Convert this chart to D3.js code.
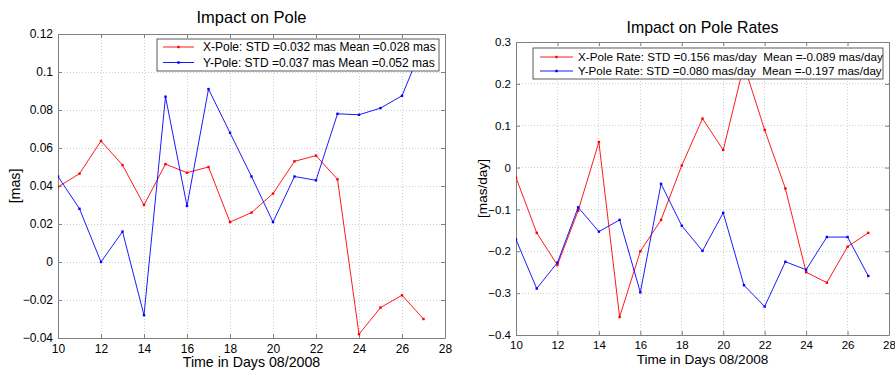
<!DOCTYPE html>
<html>
<head>
<meta charset="utf-8">
<script src="https://cdn.jsdelivr.net/npm/d3@7/dist/d3.min.js"></script>
<style>
  html, body { margin: 0; padding: 0; background: #fff; }
  svg { display: block; font-family: "Liberation Sans", Arial, sans-serif; }
  text { white-space: pre; }
</style>
</head>
<body>
<svg id="chart" width="895" height="372"></svg>
<script>
// Days of August 2008
const days = [10, 11, 12, 13, 14, 15, 16, 17, 18, 19, 20, 21, 22, 23, 24, 25, 26, 27];

// Pole offsets [mas]
const xPole = [0.0395, 0.0465, 0.0637, 0.051, 0.030, 0.0515, 0.047, 0.050, 0.021, 0.026,
               0.036, 0.053, 0.056, 0.0435, -0.038, -0.024, -0.0175, -0.030];
const yPole = [0.045, 0.028, 0.000, 0.016, -0.028, 0.087, 0.0295, 0.091, 0.068, 0.045,
               0.021, 0.045, 0.043, 0.078, 0.0775, 0.081, 0.0875, 0.115];

// Pole rates [mas/day]
const xRate = [-0.024, -0.156, -0.233, -0.103, 0.061, -0.357, -0.200, -0.125, 0.005, 0.117,
               0.042, 0.245, 0.090, -0.050, -0.250, -0.275, -0.189, -0.156];
const yRate = [-0.172, -0.289, -0.227, -0.095, -0.153, -0.125, -0.298, -0.039, -0.139, -0.199,
               -0.108, -0.281, -0.332, -0.225, -0.244, -0.166, -0.166, -0.259];

// Axis ticks
const xTicks = [10, 12, 14, 16, 18, 20, 22, 24, 26, 28];
const poleTicks = [-0.04, -0.02, 0, 0.02, 0.04, 0.06, 0.08, 0.1, 0.12];
const rateTicks = [-0.4, -0.3, -0.2, -0.1, 0, 0.1, 0.2, 0.3];

// Legend texts
const poleLegend = ["X-Pole: STD =0.032 mas Mean =0.028 mas",
                    "Y-Pole: STD =0.037 mas Mean =0.052 mas"];
const rateLegend = ["X-Pole Rate: STD =0.156 mas/day  Mean =-0.089 mas/day",
                    "Y-Pole Rate: STD =0.080 mas/day  Mean =-0.197 mas/day"];

const RED = "#ff0000", BLUE = "#0000ff";
const svg = d3.select("#chart");

function panel(cfg) {
  const { left, right, top, bottom, yDomain, yTickVals, yFmt, series, title, titleY,
          yLabel, yLabelX, legend, fs } = cfg;
  const x = d3.scaleLinear().domain([10, 28]).range([left, right]);
  const y = d3.scaleLinear().domain(yDomain).range([bottom, top]);
  const g = svg.append("g");
  const clipId = "clip" + Math.round(left);

  g.append("clipPath").attr("id", clipId)
    .append("rect").attr("x", left).attr("y", top)
    .attr("width", right - left).attr("height", bottom - top);

  // dotted grid
  g.append("g").selectAll("line").data(xTicks.slice(1, -1)).join("line")
    .attr("x1", d => x(d)).attr("x2", d => x(d)).attr("y1", top).attr("y2", bottom)
    .attr("stroke", "#cfcfcf").attr("stroke-dasharray", "1,2").attr("shape-rendering", "crispEdges");
  g.append("g").selectAll("line").data(yTickVals.slice(1, -1)).join("line")
    .attr("y1", d => y(d)).attr("y2", d => y(d)).attr("x1", left).attr("x2", right)
    .attr("stroke", "#cfcfcf").attr("stroke-dasharray", "1,2").attr("shape-rendering", "crispEdges");

  // axes with inward ticks
  const bottomAxis = d3.axisBottom(x).tickValues(xTicks).tickSizeInner(-4).tickSizeOuter(0)
    .tickPadding(6).tickFormat(d3.format("d"));
  const topAxis = d3.axisTop(x).tickValues(xTicks).tickSizeInner(-4).tickSizeOuter(0).tickFormat("");
  const leftAxis = d3.axisLeft(y).tickValues(yTickVals).tickSizeInner(-4).tickSizeOuter(0)
    .tickPadding(5).tickFormat(yFmt);
  const rightAxis = d3.axisRight(y).tickValues(yTickVals).tickSizeInner(-4).tickSizeOuter(0).tickFormat("");

  const styleAxis = sel => {
    sel.selectAll("path").attr("stroke", "#808080");
    sel.selectAll("line").attr("stroke", "#808080");
    sel.selectAll("text").attr("fill", "#000").style("font-size", fs.tick + "px")
      .style("font-family", "'Liberation Sans', Arial, sans-serif");
  };
  g.append("g").attr("transform", `translate(0,${bottom})`).call(bottomAxis).call(styleAxis);
  g.append("g").attr("transform", `translate(0,${top})`).call(topAxis).call(styleAxis);
  g.append("g").attr("transform", `translate(${left},0)`).call(leftAxis).call(styleAxis);
  g.append("g").attr("transform", `translate(${right},0)`).call(rightAxis).call(styleAxis);

  // series lines and point markers
  const plot = g.append("g").attr("clip-path", `url(#${clipId})`);
  const line = d3.line().x((d, i) => x(days[i])).y(d => y(d));
  series.forEach(s => {
    plot.append("path").datum(s.values).attr("d", line)
      .attr("fill", "none").attr("stroke", s.color).attr("stroke-width", 0.9);
    plot.append("g").selectAll("rect").data(s.values).join("rect")
      .attr("x", (d, i) => x(days[i]) - 1.2).attr("y", d => y(d) - 1.2)
      .attr("width", 2.4).attr("height", 2.4).attr("fill", s.color);
  });

  // title and axis labels
  g.append("text").attr("x", (left + right) / 2).attr("y", titleY)
    .attr("text-anchor", "middle").style("font-size", fs.title + "px").text(title);
  g.append("text").attr("x", (left + right) / 2).attr("y", bottom + 29)
    .attr("text-anchor", "middle").style("font-size", fs.label + "px").text("Time in Days 08/2008");
  g.append("text").attr("transform", `translate(${yLabelX},${(top + bottom) / 2}) rotate(-90)`)
    .attr("text-anchor", "middle").attr("dy", "0.35em").style("font-size", fs.label + "px").text(yLabel);

  // legend
  const L = legend;
  const lg = g.append("g");
  lg.append("rect").attr("x", L.x0).attr("y", L.y0).attr("width", L.x1 - L.x0).attr("height", L.y1 - L.y0)
    .attr("fill", "#fff").attr("stroke", "#333").attr("stroke-width", 0.8);
  series.forEach((s, i) => {
    const cy = L.rows[i];
    lg.append("line").attr("x1", L.s0).attr("x2", L.s1).attr("y1", cy).attr("y2", cy)
      .attr("stroke", s.color).attr("stroke-width", 0.9);
    lg.append("rect").attr("x", (L.s0 + L.s1) / 2 - 1.2).attr("y", cy - 1.2)
      .attr("width", 2.4).attr("height", 2.4).attr("fill", s.color);
    lg.append("text").attr("x", L.tx).attr("y", cy).attr("dy", "0.35em")
      .style("font-size", fs.legend + "px").text(L.texts[i]);
  });
}

panel({
  left: 58, right: 445, top: 34, bottom: 338,
  yDomain: [-0.04, 0.12], yTickVals: poleTicks,
  yFmt: d => d === 0 ? "0" : d3.format("")(+d.toFixed(2)),
  series: [{ values: xPole, color: RED }, { values: yPole, color: BLUE }],
  title: "Impact on Pole", titleY: 23,
  yLabel: "[mas]", yLabelX: 15,
  fs: { tick: 12, label: 14.2, title: 16.5, legend: 12 },
  legend: { x0: 157, x1: 439, y0: 39, y1: 71, rows: [47, 62.5], s0: 163, s1: 194, tx: 203,
            texts: poleLegend }
});

panel({
  left: 516, right: 889, top: 42, bottom: 335,
  yDomain: [-0.4, 0.3], yTickVals: rateTicks,
  yFmt: d => d === 0 ? "0" : d3.format("")(+d.toFixed(1)),
  series: [{ values: xRate, color: RED }, { values: yRate, color: BLUE }],
  title: "Impact on Pole Rates", titleY: 33,
  yLabel: "[mas/day]", yLabelX: 482,
  fs: { tick: 11.5, label: 13.6, title: 15.9, legend: 11.65 },
  legend: { x0: 533, x1: 883, y0: 48, y1: 79, rows: [57, 71], s0: 540, s1: 573, tx: 578,
            texts: rateLegend }
});
</script>
</body>
</html>
